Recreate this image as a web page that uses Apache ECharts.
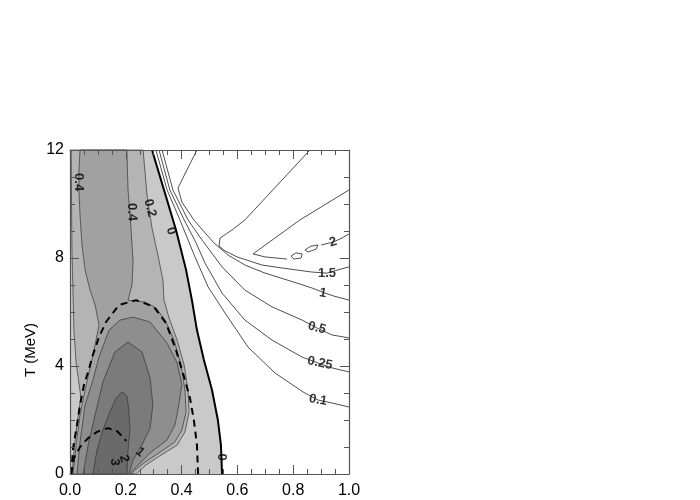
<!DOCTYPE html>
<html>
<head>
<meta charset="utf-8">
<script src="https://cdn.jsdelivr.net/npm/echarts@6/dist/echarts.min.js"></script>
<style>
  html, body { margin: 0; padding: 0; background: #fff; }
  #chart { width: 700px; height: 500px; }
</style>
</head>
<body>
<div id="chart"></div>
<script>
// axis ticks
var xTicks = [0, 0.2, 0.4, 0.6, 0.8, 1.0]
var yTicks = [0, 4, 8, 12]

// thick zero contour (x, T)
var zeroLine = [[0.294, 12], [0.337, 10.52], [0.380, 9.04], [0.416, 7.56], [0.437, 6.44], [0.455, 5.33],
  [0.480, 4.22], [0.509, 3.11], [0.530, 2.0], [0.541, 1.07], [0.545, 0]]

// filled negative levels, outermost first
var band02 = [[0.004, 12], [0.262, 12], [0.276, 10.33], [0.294, 9.11], [0.315, 8.11], [0.333, 7.19],
  [0.337, 6.44], [0.355, 5.78], [0.384, 4.96], [0.409, 4.04], [0.423, 3.11], [0.427, 2.30], [0.412, 1.56],
  [0.384, 1.07], [0.326, 0.70], [0.272, 0.33], [0.237, 0], [0.007, 0], [0.018, 1.26], [0.032, 2.37],
  [0.039, 2.85], [0.022, 4.11], [0.014, 5.33], [0.007, 8.30]]
var band04 = [[0.011, 0], [0.022, 1.07], [0.036, 2.19], [0.054, 3.11], [0.072, 3.93], [0.090, 4.78],
  [0.104, 5.52], [0.090, 6.26], [0.072, 6.81], [0.054, 7.56], [0.043, 8.48], [0.036, 9.59], [0.032, 10.52],
  [0.032, 11.26], [0.036, 12], [0.204, 12], [0.208, 10.52], [0.219, 9.04], [0.226, 7.85], [0.222, 7.0],
  [0.208, 6.44], [0.229, 6.41], [0.269, 6.37], [0.308, 6.15], [0.341, 5.70], [0.373, 4.96], [0.398, 4.04],
  [0.412, 3.11], [0.416, 2.30], [0.401, 1.63], [0.376, 1.19], [0.323, 0.81], [0.269, 0.44], [0.229, 0.11],
  [0.222, 0]]
var band1 = [[0.025, 0], [0.036, 1.19], [0.054, 2.56], [0.082, 3.48], [0.104, 4.33], [0.140, 5.33],
  [0.179, 5.70], [0.226, 5.81], [0.287, 5.63], [0.348, 4.85], [0.384, 4.11], [0.401, 3.30], [0.387, 2.37],
  [0.376, 1.81], [0.348, 1.26], [0.287, 0.78], [0.219, 0.07], [0.219, 0]]
var band2 = [[0.047, 0], [0.065, 1.07], [0.090, 2.19], [0.118, 3.41], [0.161, 4.52], [0.208, 4.89],
  [0.258, 4.52], [0.287, 3.56], [0.297, 2.56], [0.287, 1.70], [0.258, 1.07], [0.226, 0.52], [0.211, 0]]
var band3 = [[0.082, 0], [0.097, 0.89], [0.118, 1.63], [0.143, 2.30], [0.165, 2.81], [0.186, 3.04],
  [0.204, 2.89], [0.211, 2.37], [0.215, 1.63], [0.208, 0.89], [0.204, 0]]

// dashed curves
var dashOuter = [[0.004, 0], [0.011, 0.96], [0.025, 1.81], [0.036, 2.56], [0.050, 3.30], [0.065, 3.78],
  [0.082, 4.41], [0.104, 5.07], [0.129, 5.63], [0.176, 6.26], [0.237, 6.44], [0.301, 6.19], [0.344, 5.59],
  [0.380, 4.59], [0.409, 3.59], [0.430, 2.81], [0.444, 2.0], [0.455, 1.07], [0.459, 0]]
var dashInner = [[0.004, 0], [0.014, 0.59], [0.036, 1.0], [0.065, 1.33], [0.097, 1.56], [0.136, 1.70],
  [0.168, 1.59], [0.194, 1.33], [0.201, 1.22]]

// positive levels (right side)
var lev01 = [[0.308, 12], [0.348, 10.52], [0.394, 9.41], [0.448, 8.04], [0.495, 6.93], [0.556, 5.96],
  [0.638, 4.70], [0.735, 3.74], [0.835, 3.04], [0.889, 2.74], [0.939, 2.63], [1.0, 2.48]]
var lev025 = [[0.319, 12], [0.358, 10.52], [0.409, 9.41], [0.452, 8.56], [0.484, 7.81], [0.545, 6.70],
  [0.627, 5.70], [0.724, 4.96], [0.832, 4.33], [0.889, 4.11], [0.939, 3.93], [1.0, 3.78]]
var lev05 = [[0.330, 12], [0.369, 10.52], [0.423, 9.41], [0.473, 8.67], [0.545, 7.67], [0.627, 6.81],
  [0.724, 6.19], [0.832, 5.70], [0.885, 5.41], [0.939, 5.15], [1.0, 5.04]]
var lev1 = [[0.455, 12], [0.419, 11.26], [0.387, 10.59], [0.401, 10.07], [0.444, 9.41], [0.484, 8.93],
  [0.516, 8.56], [0.566, 8.11], [0.627, 7.74], [0.699, 7.44], [0.789, 7.15], [0.867, 6.89], [0.914, 6.70],
  [0.946, 6.59], [1.0, 6.44]]
var lev15 = [[0.860, 12], [0.627, 9.41], [0.581, 9.04], [0.538, 8.74], [0.534, 8.44], [0.556, 8.26],
  [0.599, 8.04], [0.688, 7.74], [0.760, 7.63], [0.867, 7.48], [0.921, 7.44], [0.961, 7.56], [1.0, 7.67]]
var lev2a = [[1.0, 10.52], [0.824, 9.41], [0.656, 8.15], [0.699, 8.04], [0.778, 7.96]]
var lev2b = [[0.792, 8.07], [0.810, 8.19], [0.832, 8.15], [0.828, 8.0], [0.803, 7.96], [0.792, 8.07]]
var lev2c = [[0.842, 8.30], [0.864, 8.44], [0.889, 8.48], [0.882, 8.33], [0.853, 8.22], [0.842, 8.30]]
var lev2d = [[0.900, 8.48], [0.943, 8.59], [0.975, 8.74], [1.0, 8.89]]

// contour labels
var labelText = ['0.4', '0.4', '0.2', '0', '0', '3', '2', '1', '2', '1.5', '1', '0.5', '0.25', '0.1']
var labelPos = [[0.029, 10.81], [0.222, 9.70], [0.287, 9.85], [0.362, 9.0], [0.545, 0.63], [0.161, 0.44],
  [0.194, 0.56], [0.251, 0.81], [0.943, 8.59], [0.921, 7.44], [0.907, 6.70], [0.885, 5.41], [0.896, 4.11],
  [0.889, 2.74]]
var labelAngle = [-90, -88, -75, -72, -90, -90, -75, -40, 15, 0, -10, -15, -12, -10]
var labelOnWhite = [false, false, false, false, false, false, false, false, true, true, true, true, true, true]

var FONT = '"Liberation Sans", Arial, Helvetica, sans-serif'

function fillSeries(pts, fill, stroke) {
  return {
    type: 'custom',
    data: pts,
    silent: true,
    renderItem: function (params, api) {
      if (params.dataIndex !== 0) return
      return {
        type: 'polygon',
        shape: { points: pts.map(function (p) { return api.coord(p) }) },
        style: { fill: fill, stroke: stroke ? '#333' : null, lineWidth: 0.7 }
      }
    }
  }
}

function lineSeries(pts, style) {
  return {
    type: 'line',
    data: pts,
    showSymbol: false,
    silent: true,
    smooth: false,
    lineStyle: style
  }
}

var thin = { color: '#222', width: 0.8 }
var dashed = { color: '#000', width: 2, type: [7, 5] }

var series = [
  fillSeries([[0, 12]].concat(zeroLine, [[0, 0]]), '#c9c9c9', false),
  fillSeries(band02, '#b4b4b4', true),
  fillSeries(band04, '#a1a1a1', true),
  fillSeries(band1, '#8e8e8e', true),
  fillSeries(band2, '#7b7b7b', true),
  fillSeries(band3, '#6a6a6a', true),
  lineSeries(dashOuter, dashed),
  lineSeries(dashInner, dashed),
  lineSeries(zeroLine, { color: '#000', width: 2 }),
  lineSeries(lev01, thin),
  lineSeries(lev025, thin),
  lineSeries(lev05, thin),
  lineSeries(lev1, thin),
  lineSeries(lev15, thin),
  lineSeries(lev2a, thin),
  lineSeries(lev2b, thin),
  lineSeries(lev2c, thin),
  lineSeries(lev2d, thin),
  {
    type: 'scatter',
    symbolSize: 1,
    silent: true,
    itemStyle: { color: 'rgba(0,0,0,0)' },
    data: labelText.map(function (t, i) {
      return {
        name: t,
        value: labelPos[i],
        label: {
          rotate: labelAngle[i],
          backgroundColor: labelOnWhite[i] ? '#fff' : 'transparent'
        }
      }
    }),
    label: {
      show: true,
      position: 'inside',
      formatter: '{b}',
      color: '#000',
      fontFamily: FONT,
      fontWeight: 'bold',
      fontSize: 13,
      padding: [0, 3]
    }
  }
]

function axisCommon(isX, showLabels) {
  return {
    type: 'value',
    min: 0,
    max: isX ? 1 : 12,
    interval: isX ? 0.2 : 4,
    z: 10,
    axisLine: { show: true, onZero: false, lineStyle: { color: '#555', width: 1.2 } },
    axisTick: { show: true, inside: true, length: 9, lineStyle: { color: '#555', width: 1 } },
    minorTick: { show: true, splitNumber: 4, length: 5, lineStyle: { color: '#555', width: 1 } },
    splitLine: { show: false },
    minorSplitLine: { show: false },
    axisLabel: {
      show: showLabels,
      color: '#000',
      fontFamily: FONT,
      fontSize: 16,
      margin: isX ? 9 : 6,
      formatter: function (v) { return isX ? v.toFixed(1) : String(v) }
    }
  }
}

var xBottom = axisCommon(true, true)
xBottom.position = 'bottom'
var xTop = axisCommon(true, false)
xTop.position = 'top'
var yLeft = axisCommon(false, true)
yLeft.position = 'left'
var yRight = axisCommon(false, false)
yRight.position = 'right'

var chart = echarts.init(document.getElementById('chart'), null, { renderer: 'canvas' })
chart.setOption({
  animation: false,
  backgroundColor: '#fff',
  grid: { left: 70, right: 351, top: 150, bottom: 26 },
  xAxis: [xBottom, xTop],
  yAxis: [yLeft, yRight],
  graphic: [{
    type: 'text',
    x: 31,
    y: 350,
    rotation: Math.PI / 2,
    style: {
      text: 'T (MeV)',
      fill: '#000',
      font: '15px ' + FONT,
      align: 'center',
      verticalAlign: 'middle'
    }
  }],
  series: series
})
</script>
</body>
</html>
